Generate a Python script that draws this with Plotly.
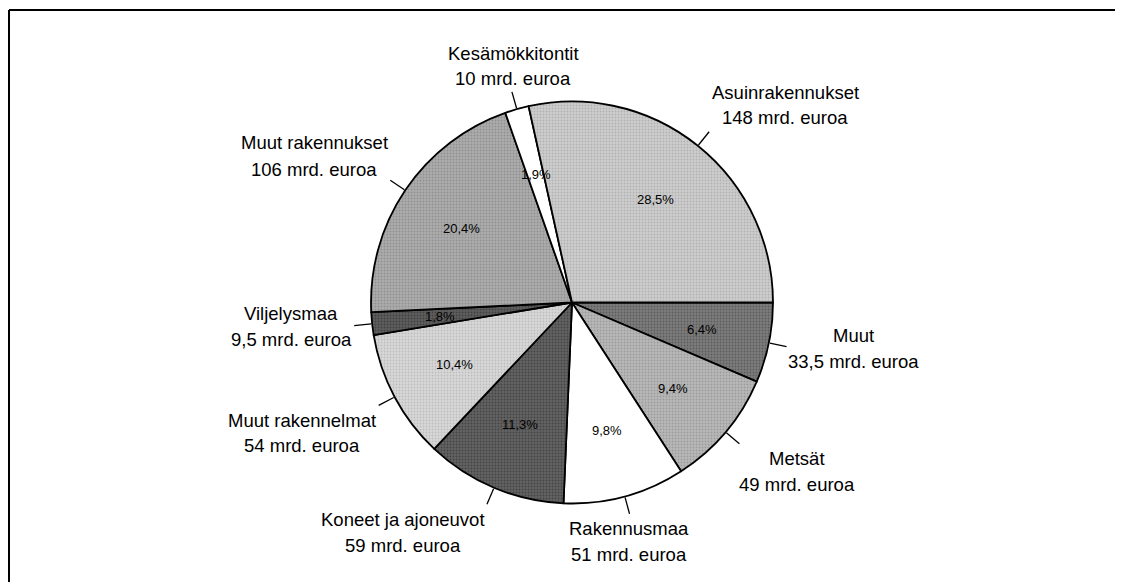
import math
import plotly.graph_objects as go

# Kansallisvarallisuus, mrd. euroa (clockwise from 3 o'clock)
categories = [
    "Muut",
    "Metsät",
    "Rakennusmaa",
    "Koneet ja ajoneuvot",
    "Muut rakennelmat",
    "Viljelysmaa",
    "Muut rakennukset",
    "Kesämökkitontit",
    "Asuinrakennukset",
]
values = [33.5, 49, 51, 59, 54, 9.5, 106, 10, 148]

# styling / layout (kept apart from the data)
colors = ["#7c7c7c", "#b8b8b8", "#ffffff", "#626262", "#d8d8d8",
          "#5e5e5e", "#acacac", "#ffffff", "#cdcdcd"]
dots = ["#3c3c3c", "#7e7e7e", "#ffffff", "#262626", "#a2a2a2",
        "#222222", "#747474", "#ffffff", "#959595"]
shapes_fill = ["." if c != "#ffffff" else "" for c in colors]
# label centres in page pixels
label_xy = [(853, 348), (797, 471), (629, 541), (403, 532), (302, 433),
            (291, 326), (314, 156), (513, 66), (785, 105)]

OFF = 8  # page body margin
W, H = 1123 - OFF, 582 - OFF
CX, CY, R = 572, 302.5, 201
START = 90  # first slice starts at 3 o'clock
FONT = "Liberation Sans, Arial, sans-serif"


def px(x):
    return (x - OFF) / W


def py(y):
    return 1 - (y - OFF) / H


fig = go.Figure()

fig.add_trace(
    go.Pie(
        labels=categories,
        values=values,
        sort=False,
        direction="clockwise",
        rotation=START,
        textinfo="none",
        hoverinfo="label+value+percent",
        marker=dict(
            colors=colors,
            line=dict(color="black", width=1.8),
            pattern=dict(shape=shapes_fill, fgcolor=dots, size=3,
                         solidity=0.3, fillmode="overlay"),
        ),
        domain=dict(x=[px(CX - R), px(CX + R)], y=[py(CY + R), py(CY - R)]),
        showlegend=False,
    )
)

total = sum(values)
cum = 0
annotations = []
shapes = []
for name, v, (lx, ly) in zip(categories, values, label_xy):
    mid = math.radians(START + 360 * (cum + v / 2) / total)
    cum += v
    sx, sy = math.sin(mid), -math.cos(mid)

    # percentage inside the slice
    pct = f"{100 * v / total:.1f}".replace(".", ",") + "%"
    annotations.append(dict(
        x=px(CX + 0.66 * R * sx), y=py(CY + 0.66 * R * sy),
        xref="paper", yref="paper", xanchor="center", yanchor="middle",
        text=pct, showarrow=False,
        font=dict(family=FONT, size=13, color="black"),
    ))

    # short leader line out from the rim
    shapes.append(dict(
        type="line", xref="paper", yref="paper",
        x0=px(CX + (R + 1) * sx), y0=py(CY + (R + 1) * sy),
        x1=px(CX + (R + 18) * sx), y1=py(CY + (R + 18) * sy),
        line=dict(color="black", width=1.3),
    ))

    # outside label, two lines
    amount = f"{v:g}".replace(".", ",") + " mrd. euroa"
    for txt, dy in ((name, -13), (amount, 13)):
        annotations.append(dict(
            x=px(lx), y=py(ly + dy), xref="paper", yref="paper",
            xanchor="center", yanchor="middle",
            text=txt, showarrow=False,
            font=dict(family=FONT, size=18.5, color="black"),
        ))

# frame: top and left edges
shapes.append(dict(type="line", xref="paper", yref="paper",
                   x0=px(OFF + 1), y0=py(10), x1=1, y1=py(10),
                   line=dict(color="black", width=2)))
shapes.append(dict(type="line", xref="paper", yref="paper",
                   x0=px(OFF + 1), y0=py(10), x1=px(OFF + 1), y1=0,
                   line=dict(color="black", width=2)))

fig.update_layout(
    width=W,
    height=H,
    margin=dict(l=0, r=0, t=0, b=0),
    paper_bgcolor="white",
    plot_bgcolor="white",
    annotations=annotations,
    shapes=shapes,
    font=dict(family=FONT),
)

fig.write_html("out.html")
